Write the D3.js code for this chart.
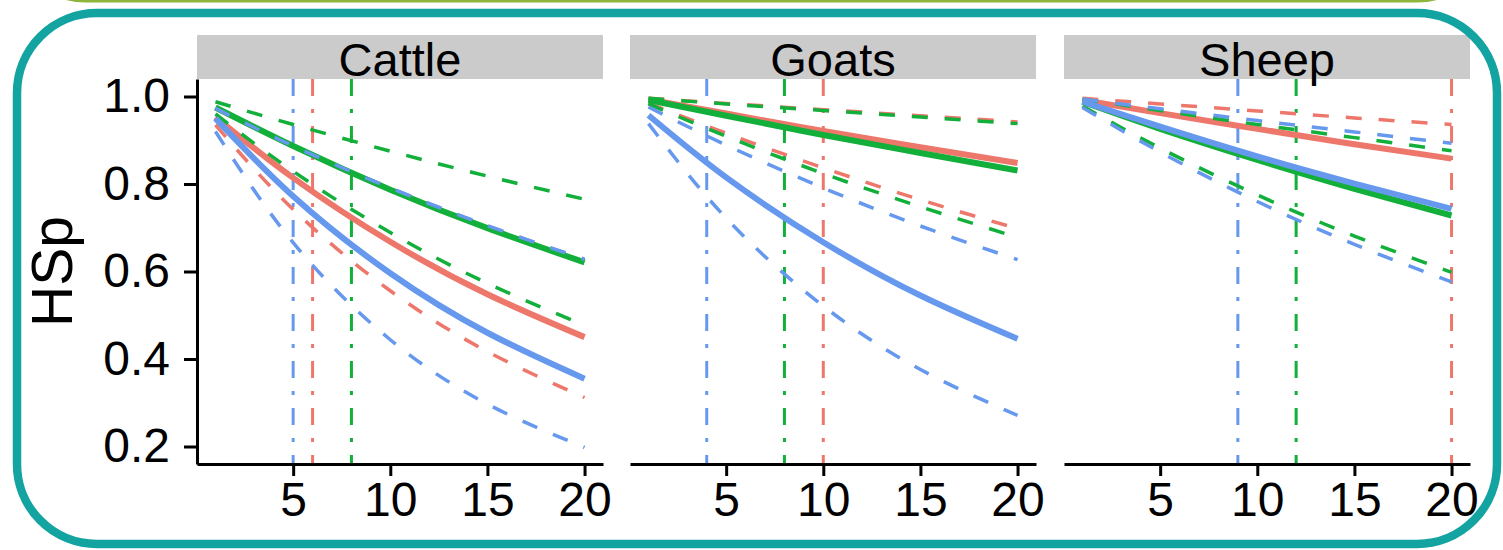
<!DOCTYPE html>
<html>
<head>
<meta charset="utf-8">
<script src="https://cdn.jsdelivr.net/npm/d3@7"></script>
<style>
  body { margin: 0; background: #fff; }
  svg { display: block; }
</style>
</head>
<body>
<svg id="chart" width="1503" height="550"></svg>
<script>
// HSp against number tested, one panel per species
var species = ["Cattle", "Goats", "Sheep"];
var colors = ["#EE776C", "#12AF3A", "#6699EE"]; // red, green, blue groups
var xs = [1, 5, 10, 15, 20];
var xTicks = [5, 10, 15, 20];
var yTicks = [0.2, 0.4, 0.6, 0.8, 1.0];

// values at xs, one row per group (red, green, blue)
var cattleMid = [[0.953, 0.814, 0.668, 0.548, 0.450], [0.975, 0.887, 0.787, 0.699, 0.621], [0.950, 0.772, 0.596, 0.460, 0.355]];
var cattleHi  = [[0.972, 0.886, 0.790, 0.704, 0.627], [0.988, 0.936, 0.875, 0.818, 0.765], [0.973, 0.887, 0.791, 0.705, 0.628]];
var cattleLo  = [[0.935, 0.742, 0.556, 0.417, 0.312], [0.960, 0.829, 0.689, 0.573, 0.477], [0.920, 0.666, 0.444, 0.297, 0.198]];
var goatsMid  = [[0.993, 0.961, 0.921, 0.884, 0.848], [0.992, 0.956, 0.912, 0.871, 0.831], [0.957, 0.815, 0.667, 0.545, 0.446]];
var goatsHi   = [[0.996, 0.984, 0.970, 0.956, 0.942], [0.996, 0.983, 0.968, 0.953, 0.938], [0.976, 0.889, 0.791, 0.704, 0.627]];
var goatsLo   = [[0.985, 0.916, 0.837, 0.764, 0.698], [0.983, 0.909, 0.824, 0.748, 0.678], [0.938, 0.722, 0.521, 0.376, 0.271]];
var sheepMid  = [[0.992, 0.962, 0.926, 0.891, 0.858], [0.988, 0.926, 0.855, 0.789, 0.728], [0.988, 0.931, 0.863, 0.801, 0.743]];
var sheepHi   = [[0.996, 0.983, 0.967, 0.951, 0.936], [0.994, 0.968, 0.936, 0.906, 0.876], [0.994, 0.972, 0.945, 0.919, 0.893]];
var sheepLo   = [[0.985, 0.929, 0.862, 0.800, 0.742], [0.978, 0.882, 0.775, 0.681, 0.598], [0.975, 0.873, 0.760, 0.662, 0.576]];
// vertical cut-off lines per group
var cattleCut = [6, 8, 5];
var goatsCut  = [10, 8, 4];
var sheepCut  = [20, 12, 9];

var panels = [
  {mid: cattleMid, hi: cattleHi, lo: cattleLo, cut: cattleCut},
  {mid: goatsMid, hi: goatsHi, lo: goatsLo, cut: goatsCut},
  {mid: sheepMid, hi: sheepHi, lo: sheepLo, cut: sheepCut}
];

var svg = d3.select("#chart");
var font = "'Liberation Sans', Arial, sans-serif";

var defs = svg.append("defs");
defs.append("clipPath").attr("id", "frame")
  .append("rect").attr("x", 17).attr("y", 13).attr("width", 1480).attr("height", 531).attr("rx", 80);

// olive box above (just its lower edge shows)
svg.append("rect").attr("x", 6).attr("y", -300).attr("width", 1491).attr("height", 300.5).attr("rx", 80)
  .attr("fill", "none").attr("stroke", "#8DB53C").attr("stroke-width", 4);

var g = svg.append("g").attr("clip-path", "url(#frame)");

var panelTop = 79, panelBottom = 464, panelW = 406;
var lefts = [197, 630, 1064];
var y = d3.scaleLinear().domain([0.16, 1.04]).range([panelBottom, panelTop]);

lefts.forEach(function(left, p) {
  var x = d3.scaleLinear().domain([0.05, 20.95]).range([left, left + panelW]);
  var pg = g.append("g");
  var d = panels[p];

  // strip
  pg.append("rect").attr("x", left).attr("y", 35).attr("width", panelW).attr("height", panelTop - 35).attr("fill", "#CBCBCB");
  pg.append("text").attr("x", left + panelW / 2).attr("y", 76).attr("text-anchor", "middle")
    .attr("font-family", font).attr("font-size", 47).text(species[p]);

  // cut-off lines
  d.cut.forEach(function(c, i) {
    pg.append("line").attr("x1", x(c)).attr("x2", x(c)).attr("y1", panelTop).attr("y2", panelBottom)
      .attr("stroke", colors[i]).attr("stroke-width", 3).attr("stroke-dasharray", "17,13,4,13");
  });

  var line = d3.line().x(function(v, i) { return x(xs[i]); }).y(function(v) { return y(v); }).curve(d3.curveNatural);

  [0, 1, 2].forEach(function(i) {
    pg.append("path").attr("d", line(d.mid[i])).attr("fill", "none").attr("stroke", colors[i]).attr("stroke-width", 6);
    [d.hi[i], d.lo[i]].forEach(function(s) {
      pg.append("path").attr("d", line(s)).attr("fill", "none").attr("stroke", colors[i])
        .attr("stroke-width", 3.5).attr("stroke-dasharray", "16,17");
    });
  });

  // x axis
  var xa = pg.append("g").attr("transform", "translate(0," + panelBottom + ")")
    .call(d3.axisBottom(x).tickValues(xTicks).tickSize(12).tickPadding(6).tickSizeOuter(0));
  xa.select(".domain").attr("stroke-width", 3);
  xa.selectAll(".tick line").attr("stroke-width", 3);
  xa.selectAll("text").attr("font-family", font).attr("font-size", 48).attr("fill", "#000");

  if (p === 0) {
    var ya = pg.append("g").attr("transform", "translate(" + left + ",0)")
      .call(d3.axisLeft(y).tickValues(yTicks).tickFormat(d3.format(".1f")).tickSize(13).tickPadding(14).tickSizeOuter(0));
    ya.select(".domain").attr("stroke-width", 3);
    ya.selectAll(".tick line").attr("stroke-width", 3);
    ya.selectAll("text").attr("font-family", font).attr("font-size", 48).attr("fill", "#000");
  }
});

g.append("text").attr("transform", "translate(72," + ((panelTop + panelBottom) / 2) + ") rotate(-90)")
  .attr("text-anchor", "middle").attr("font-family", font).attr("font-size", 57).text("HSp");

// teal frame
svg.append("rect").attr("x", 17).attr("y", 13).attr("width", 1480).attr("height", 531).attr("rx", 80)
  .attr("fill", "none").attr("stroke", "#13A3A1").attr("stroke-width", 8.5);
</script>
</body>
</html>
